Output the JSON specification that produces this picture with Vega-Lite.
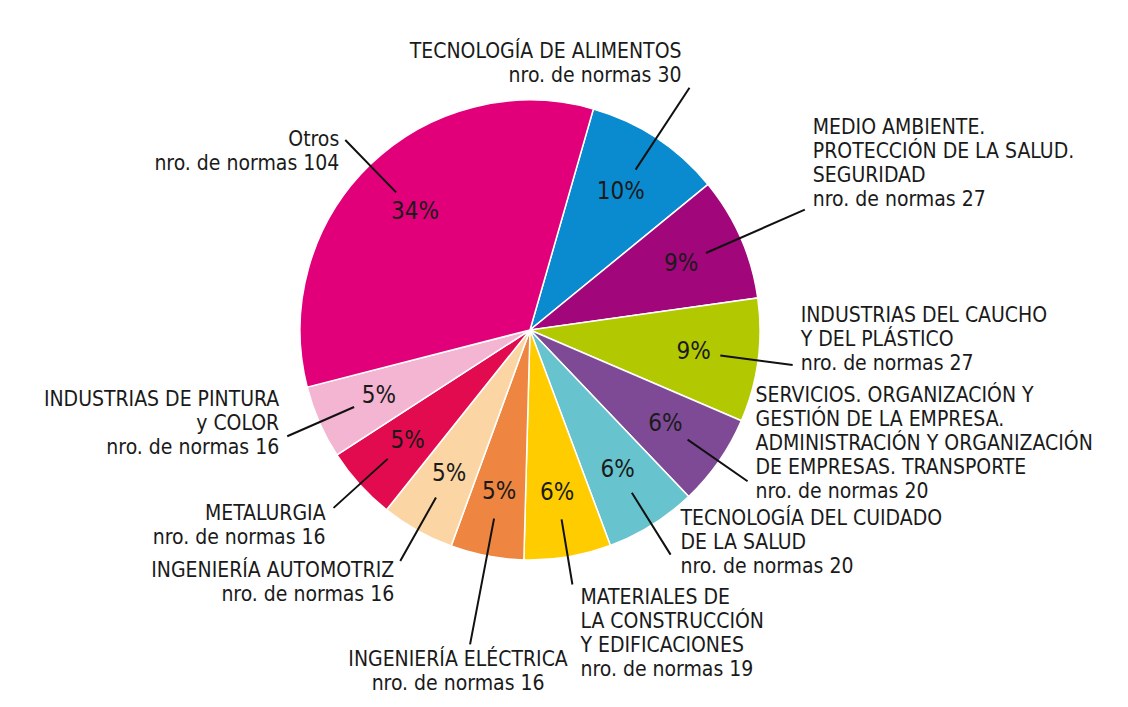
{
  "$schema": "https://vega.github.io/schema/vega-lite/v6.json",
  "width": 1060,
  "height": 660,
  "autosize": {"type": "none"},
  "padding": {"left": 0, "top": 0, "right": 68, "bottom": 47},
  "background": "white",
  "config": {"view": {"stroke": null}, "text": {"font": "Liberation Sans Narrow, DejaVu Sans Condensed, Roboto, sans-serif", "color": "#1a1a1a"}},
  "data": {"values": [
    {"order": 1, "cat": "Tecnología de alimentos", "n": 30, "pct": "10%", "label": "TECNOLOGÍA DE ALIMENTOS\nnro. de normas 30"},
    {"order": 2, "cat": "Medio ambiente", "n": 27, "pct": "9%", "label": "MEDIO AMBIENTE.\nPROTECCIÓN DE LA SALUD.\nSEGURIDAD\nnro. de normas  27"},
    {"order": 3, "cat": "Caucho y plástico", "n": 27, "pct": "9%", "label": "INDUSTRIAS DEL CAUCHO\nY DEL PLÁSTICO\nnro. de normas  27"},
    {"order": 4, "cat": "Servicios", "n": 20, "pct": "6%", "label": "SERVICIOS. ORGANIZACIÓN Y\nGESTIÓN DE LA EMPRESA.\nADMINISTRACIÓN Y ORGANIZACIÓN\nDE EMPRESAS. TRANSPORTE\nnro. de normas 20"},
    {"order": 5, "cat": "Cuidado de la salud", "n": 20, "pct": "6%", "label": "TECNOLOGÍA DEL CUIDADO\nDE LA SALUD\nnro. de normas 20"},
    {"order": 6, "cat": "Materiales de construcción", "n": 19, "pct": "6%", "label": "MATERIALES DE\nLA CONSTRUCCIÓN\nY EDIFICACIONES\nnro. de normas 19"},
    {"order": 7, "cat": "Ingeniería eléctrica", "n": 16, "pct": "5%", "label": "INGENIERÍA ELÉCTRICA\nnro. de normas 16"},
    {"order": 8, "cat": "Ingeniería automotriz", "n": 16, "pct": "5%", "label": "INGENIERÍA AUTOMOTRIZ\nnro. de normas 16"},
    {"order": 9, "cat": "Metalurgia", "n": 16, "pct": "5%", "label": "METALURGIA\nnro. de normas 16"},
    {"order": 10, "cat": "Pintura y color", "n": 16, "pct": "5%", "label": "INDUSTRIAS DE PINTURA\ny COLOR\nnro. de normas 16"},
    {"order": 11, "cat": "Otros", "n": 104, "pct": "34%", "label": "Otros\nnro. de normas 104"}
  ]},
  "encoding": {
    "theta": {"field": "n", "type": "quantitative", "stack": true, "scale": {"range": [0.2793, 6.5625]}},
    "order": {"field": "order", "type": "quantitative"}
  },
  "layer": [
    {
      "mark": {"type": "arc", "outerRadius": 230, "stroke": "white", "strokeWidth": 1.5},
      "encoding": {
        "color": {"field": "cat", "type": "nominal", "legend": null,
          "scale": {
            "domain": ["Tecnología de alimentos", "Medio ambiente", "Caucho y plástico", "Servicios", "Cuidado de la salud", "Materiales de construcción", "Ingeniería eléctrica", "Ingeniería automotriz", "Metalurgia", "Pintura y color", "Otros"],
            "range": ["#0a8bd0", "#a1067b", "#b2c800", "#7e4a96", "#67c3cd", "#ffcc00", "#ee8540", "#fbd5a4", "#e30b4f", "#f3b5d1", "#e2007a"]
          }}
      }
    },
    {
      "mark": {"type": "arc", "radius": 265, "radius2": 192, "padAngle": 3.1, "stroke": "#111111", "strokeWidth": 2, "fillOpacity": 0},
      "encoding": {"strokeOpacity": {"condition": {"test": "indexof([3, 4, 5, 8, 9, 10, 11], datum.order) >= 0", "value": 1}, "value": 0}}
    },
    {
      "mark": {"type": "arc", "radius": 290, "radius2": 192, "padAngle": 3.1, "stroke": "#111111", "strokeWidth": 2, "fillOpacity": 0},
      "encoding": {"strokeOpacity": {"condition": {"test": "datum.order == 1", "value": 1}, "value": 0}}
    },
    {
      "mark": {"type": "arc", "radius": 300, "radius2": 192, "padAngle": 3.1, "stroke": "#111111", "strokeWidth": 2, "fillOpacity": 0},
      "encoding": {"strokeOpacity": {"condition": {"test": "datum.order == 2", "value": 1}, "value": 0}}
    },
    {
      "mark": {"type": "arc", "radius": 258, "radius2": 192, "padAngle": 3.1, "stroke": "#111111", "strokeWidth": 2, "fillOpacity": 0},
      "encoding": {"strokeOpacity": {"condition": {"test": "datum.order == 6", "value": 1}, "value": 0}}
    },
    {
      "mark": {"type": "arc", "radius": 320, "radius2": 192, "padAngle": 3.1, "stroke": "#111111", "strokeWidth": 2, "fillOpacity": 0},
      "encoding": {"strokeOpacity": {"condition": {"test": "datum.order == 7", "value": 1}, "value": 0}}
    },
    {
      "mark": {"type": "text", "radius": 165, "fontSize": 24},
      "encoding": {"text": {"field": "pct", "type": "nominal"}}
    },
    {
      "mark": {"type": "text", "radius": 290, "align": "right", "baseline": "middle", "dx": -8, "dy": -36, "fontSize": 21, "lineHeight": 24, "lineBreak": "\n"},
      "encoding": {"text": {"condition": {"test": "datum.order == 1", "field": "label", "type": "nominal"}, "value": ""}}
    },
    {
      "mark": {"type": "text", "radius": 300, "align": "left", "baseline": "middle", "dx": 8, "dy": -82, "fontSize": 21, "lineHeight": 24, "lineBreak": "\n"},
      "encoding": {"text": {"condition": {"test": "datum.order == 2", "field": "label", "type": "nominal"}, "value": ""}}
    },
    {
      "mark": {"type": "text", "radius": 265, "align": "left", "baseline": "middle", "dx": 8, "dy": -49, "fontSize": 21, "lineHeight": 24, "lineBreak": "\n"},
      "encoding": {"text": {"condition": {"test": "datum.order == 3", "field": "label", "type": "nominal"}, "value": ""}}
    },
    {
      "mark": {"type": "text", "radius": 265, "align": "left", "baseline": "middle", "dx": 8, "dy": -85, "fontSize": 21, "lineHeight": 24, "lineBreak": "\n"},
      "encoding": {"text": {"condition": {"test": "datum.order == 4", "field": "label", "type": "nominal"}, "value": ""}}
    },
    {
      "mark": {"type": "text", "radius": 265, "align": "left", "baseline": "middle", "dx": 10, "dy": -36, "fontSize": 21, "lineHeight": 24, "lineBreak": "\n"},
      "encoding": {"text": {"condition": {"test": "datum.order == 5", "field": "label", "type": "nominal"}, "value": ""}}
    },
    {
      "mark": {"type": "text", "radius": 258, "align": "left", "baseline": "middle", "dx": 8, "dy": 14, "fontSize": 21, "lineHeight": 24, "lineBreak": "\n"},
      "encoding": {"text": {"condition": {"test": "datum.order == 6", "field": "label", "type": "nominal"}, "value": ""}}
    },
    {
      "mark": {"type": "text", "radius": 320, "align": "center", "baseline": "middle", "dx": -12, "dy": 16, "fontSize": 21, "lineHeight": 24, "lineBreak": "\n"},
      "encoding": {"text": {"condition": {"test": "datum.order == 7", "field": "label", "type": "nominal"}, "value": ""}}
    },
    {
      "mark": {"type": "text", "radius": 265, "align": "right", "baseline": "middle", "dx": -6, "dy": 10, "fontSize": 21, "lineHeight": 24, "lineBreak": "\n"},
      "encoding": {"text": {"condition": {"test": "datum.order == 8", "field": "label", "type": "nominal"}, "value": ""}}
    },
    {
      "mark": {"type": "text", "radius": 265, "align": "right", "baseline": "middle", "dx": -8, "dy": 6, "fontSize": 21, "lineHeight": 24, "lineBreak": "\n"},
      "encoding": {"text": {"condition": {"test": "datum.order == 9", "field": "label", "type": "nominal"}, "value": ""}}
    },
    {
      "mark": {"type": "text", "radius": 265, "align": "right", "baseline": "middle", "dx": -8, "dy": -36, "fontSize": 21, "lineHeight": 24, "lineBreak": "\n"},
      "encoding": {"text": {"condition": {"test": "datum.order == 10", "field": "label", "type": "nominal"}, "value": ""}}
    },
    {
      "mark": {"type": "text", "radius": 265, "align": "right", "baseline": "middle", "dx": -6, "dy": 0, "fontSize": 21, "lineHeight": 24, "lineBreak": "\n"},
      "encoding": {"text": {"condition": {"test": "datum.order == 11", "field": "label", "type": "nominal"}, "value": ""}}
    }
  ]
}
